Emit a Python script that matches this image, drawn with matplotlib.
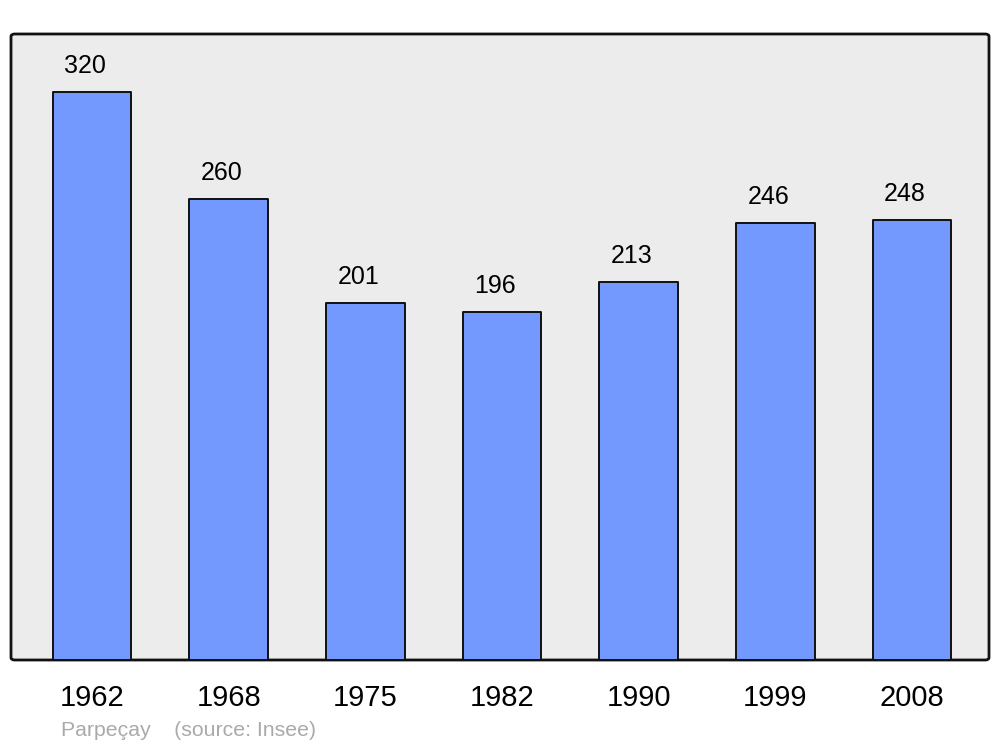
import matplotlib
matplotlib.use('Agg')
import matplotlib.pyplot as plt
from matplotlib.patches import FancyBboxPatch

years = ['1962', '1968', '1975', '1982', '1990', '1999', '2008']
population = [320, 260, 201, 196, 213, 246, 248]

plt.rcParams['font.family'] = ['Liberation Sans', 'DejaVu Sans']

fig = plt.figure(figsize=(10, 7.47), dpi=100)
ax = fig.add_axes([0.011, 87 / 747, 0.978, 626 / 747])
ax.set_facecolor('none')

# rounded background frame
frame = FancyBboxPatch((0, 0), 1, 1, boxstyle='round,pad=0,rounding_size=0.004',
                       transform=ax.transAxes, facecolor='#ececec',
                       edgecolor='#111111', linewidth=2.0, zorder=0, clip_on=False)
ax.add_patch(frame)

x = list(range(len(years)))
bars = ax.bar(x, population, width=0.575, color='#7399ff', edgecolor='#111111',
              linewidth=1.4, zorder=2)
for b in bars:
    b.set_joinstyle('round')

for xi, v in zip(x, population):
    ax.annotate(str(v), (xi, v), xytext=(-5, 10), textcoords='offset points',
                ha='center', va='bottom', fontsize=18, color='black')

ax.set_xlim(-0.593, 6.563)
ax.set_ylim(0, 352.7)
for s in ax.spines.values():
    s.set_visible(False)
ax.set_yticks([])
ax.set_xticks(x)
ax.set_xticklabels(years, fontsize=21)
ax.tick_params(axis='x', length=0, pad=17)

fig.text(0.061, 1 - 731 / 747, 'Parpeçay    (source: Insee)', fontsize=15.3,
         color='#aaaaaa', ha='left', va='center')

fig.savefig('out.png', dpi=100)
